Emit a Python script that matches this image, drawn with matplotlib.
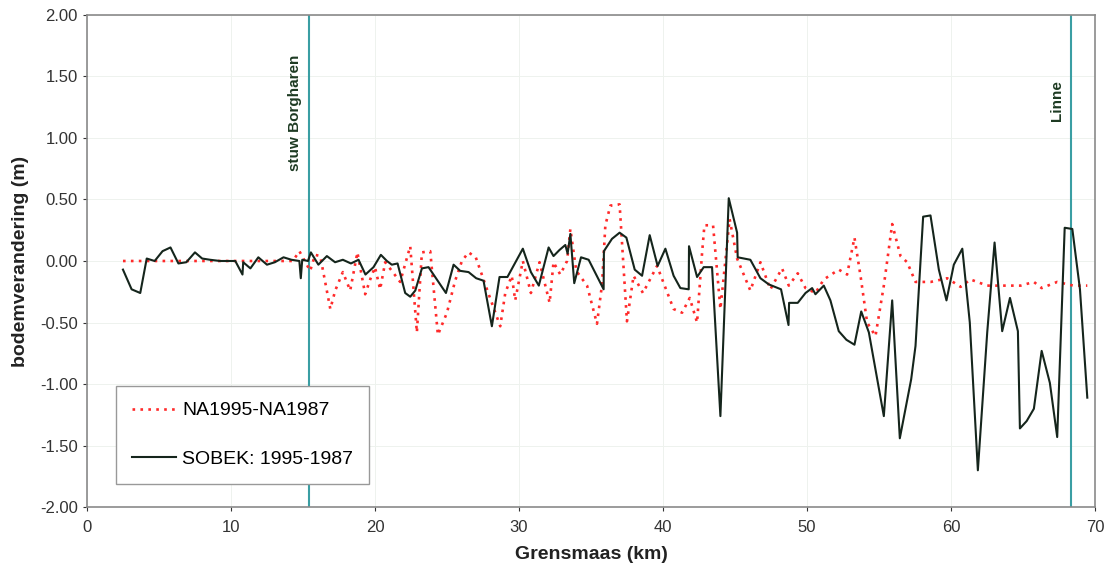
import matplotlib
matplotlib.use('agg')
import matplotlib.pyplot as plt

# SOBEK: 1995-1987 (km, m)
sobek_km = [2.5, 3.1, 3.7, 4.15, 4.7, 5.25, 5.8, 6.35, 6.9, 7.5, 8.0, 8.55, 9.25, 10.3, 10.8, 10.85,
            11.35, 11.9, 12.5, 13.05, 13.65, 14.2, 14.75, 14.85, 14.95, 15.35, 15.55, 16.07, 16.66,
            17.23, 17.77, 18.33, 18.86, 19.34, 19.9, 20.41, 20.83, 21.17, 21.57, 22.1, 22.45, 22.8,
            23.26, 23.72, 24.93, 25.46, 25.92, 26.5, 27.03, 27.54, 28.12, 28.65, 29.2, 30.27, 30.83,
            31.38, 32.06, 32.4, 32.82, 33.22, 33.38, 33.57, 33.84, 34.31, 34.84, 35.88, 35.9, 36.46,
            36.99, 37.46, 38.04, 38.55, 39.08, 39.63, 40.17, 40.74, 41.21, 41.79, 41.81, 42.37, 42.83,
            43.41, 43.99, 44.57, 45.15, 45.19, 46.07, 46.77, 47.35, 48.2, 48.72, 48.76, 49.36, 49.9,
            50.36, 50.59, 51.17, 51.63, 52.21, 52.74, 53.3, 53.77, 54.3, 55.34, 55.92, 56.45, 57.24,
            57.54, 58.07, 58.58, 59.16, 59.69, 60.2, 60.79, 61.31, 61.87, 62.52, 63.03, 63.56, 64.1,
            64.65, 64.79, 65.26, 65.76, 66.3, 66.87, 67.38, 67.9, 68.43, 68.96, 69.47]
sobek_dz = [-0.07, -0.23, -0.26, 0.02, 0.0, 0.08, 0.11, -0.02, -0.01, 0.07, 0.02, 0.01, 0.0, 0.0, -0.11, -0.01,
            -0.06, 0.03, -0.03, -0.01, 0.03, 0.01, 0.0, -0.14, 0.01, 0.0, 0.07, -0.03, 0.04,
            -0.01, 0.01, -0.02, 0.01, -0.11, -0.05, 0.05, 0.0, -0.03, -0.02, -0.26, -0.29, -0.24,
            -0.06, -0.05, -0.26, -0.03, -0.08, -0.09, -0.14, -0.16, -0.53, -0.13, -0.13, 0.10, -0.09,
            -0.20, 0.11, 0.04, 0.09, 0.13, 0.06, 0.22, -0.18, 0.03, 0.01, -0.23, 0.08, 0.18,
            0.23, 0.19, -0.07, -0.12, 0.21, -0.04, 0.10, -0.12, -0.22, -0.23, 0.12, -0.13, -0.05,
            -0.05, -1.26, 0.51, 0.23, 0.03, 0.01, -0.14, -0.19, -0.23, -0.52, -0.34, -0.34, -0.26,
            -0.22, -0.27, -0.20, -0.32, -0.57, -0.64, -0.68, -0.41, -0.58, -1.26, -0.32, -1.44, -0.96,
            -0.69, 0.36, 0.37, -0.07, -0.32, -0.03, 0.10, -0.50, -1.70, -0.58, 0.15, -0.57, -0.30,
            -0.57, -1.36, -1.30, -1.20, -0.73, -0.99, -1.43, 0.27, 0.26, -0.23, -1.11]

# NA1995-NA1987 (km, m)
na_km = [2.5, 4.0, 6.0, 8.0, 10.0, 12.0, 14.3, 14.75, 15.5, 15.84, 16.2, 16.9, 17.24, 17.77, 18.28,
         18.78, 19.32, 19.67, 20.0, 20.36, 20.71, 21.17, 21.75, 22.45, 22.91, 23.26, 23.84, 24.37,
         25.0, 25.57, 26.04, 26.5, 27.0, 27.9, 28.7, 29.05, 29.5, 29.74, 30.27, 30.83, 31.43, 32.13,
         32.4, 32.87, 33.34, 33.57, 33.98, 34.73, 35.42, 35.77, 36.0, 36.35, 36.99, 37.5, 37.96,
         38.61, 39.59, 40.74, 41.33, 41.86, 42.37, 42.72, 42.88, 43.48, 43.99, 44.63, 45.15, 46.07,
         46.77, 47.46, 48.27, 48.74, 49.36, 49.9, 50.59, 51.17, 52.21, 52.79, 53.3, 53.72, 54.18,
         54.76, 55.34, 55.92, 56.5, 56.96, 57.54, 58.6, 59.74, 60.67, 61.36, 62.52, 63.68, 64.84,
         65.76, 66.3, 67.38, 68.5, 69.47]
na_dz = [0.0, 0.0, 0.0, 0.0, 0.0, 0.0, 0.0, 0.08, -0.08, 0.05, 0.04, -0.39, -0.24, -0.09, -0.24,
         0.07, -0.27, -0.15, -0.05, -0.23, -0.01, -0.08, -0.17, 0.12, -0.58, 0.07, 0.08, -0.60,
         -0.42, -0.16, 0.0, 0.07, 0.03, -0.27, -0.53, -0.26, -0.12, -0.32, 0.0, -0.26, -0.01, -0.34,
         -0.01, -0.11, 0.0, 0.26, -0.08, -0.20, -0.51, -0.19, 0.29, 0.45, 0.46, -0.49, -0.12,
         -0.26, -0.04, -0.39, -0.42, -0.30, -0.50, 0.07, 0.29, 0.29, -0.39, 0.34, 0.02, -0.24,
         -0.01, -0.23, -0.06, -0.20, -0.10, -0.22, -0.26, -0.15, -0.07, -0.11, 0.19, -0.12, -0.50,
         -0.61, -0.20, 0.30, 0.04, -0.01, -0.17, -0.17, -0.14, -0.21, -0.15, -0.20, -0.20, -0.20,
         -0.17, -0.22, -0.17, -0.20, -0.20]

# locations marked with a vertical line
loc_names = ['stuw Borgharen', 'Linne']
loc_km = [15.43, 68.35]
loc_text_y = [1.2, 1.3]

plt.rcParams['font.family'] = ['Liberation Sans', 'DejaVu Sans']

fig = plt.figure(figsize=(11.15, 5.68), dpi=100)
ax = fig.add_axes([0.078, 0.107, 0.904, 0.867])

ax.grid(True, color='#eef2ee', linewidth=0.7)
ax.set_axisbelow(True)

ax.plot(na_km, na_dz, color='#ff2a2a', linestyle=(0, (1.0, 2.0)), linewidth=1.9,
        label='NA1995-NA1987', zorder=3)
ax.plot(sobek_km, sobek_dz, color='#15251c', linewidth=1.5, label='SOBEK: 1995-1987', zorder=4)

for name, km, ty in zip(loc_names, loc_km, loc_text_y):
    ax.axvline(km, color='#3a9ea3', linewidth=1.5, zorder=2)
    ax.text(km - 1.0, ty, name, rotation=90, ha='center', va='center',
            fontsize=11, fontweight='bold', color='#1d3a22')

ax.set_xlim(0, 70)
ax.set_ylim(-2, 2)
ax.set_xticks(range(0, 71, 10))
ax.set_yticks([2.0, 1.5, 1.0, 0.5, 0.0, -0.5, -1.0, -1.5, -2.0])
ax.set_yticklabels(['%.2f' % v for v in [2.0, 1.5, 1.0, 0.5, 0.0, -0.5, -1.0, -1.5, -2.0]])
ax.tick_params(labelsize=12, colors='#333333', length=3, width=0.8)
ax.tick_params(axis='x', pad=6)

for s in ax.spines.values():
    s.set_color('#8a8a8a')
    s.set_linewidth(1.2)

ax.set_xlabel('Grensmaas (km)', fontsize=14, fontweight='bold', color='#222222', labelpad=8)
ax.set_ylabel('bodemverandering (m)', fontsize=14, fontweight='bold', color='#222222', labelpad=8)

leg = ax.legend(loc='lower left', bbox_to_anchor=(0.029, 0.048), fontsize=14,
                handlelength=2.3, labelspacing=1.6, borderpad=0.8, borderaxespad=0.0,
                fancybox=False, framealpha=1.0, edgecolor='#999999', handletextpad=0.3)
leg.get_frame().set_linewidth(1.0)

plt.savefig('out.png', dpi=100)
